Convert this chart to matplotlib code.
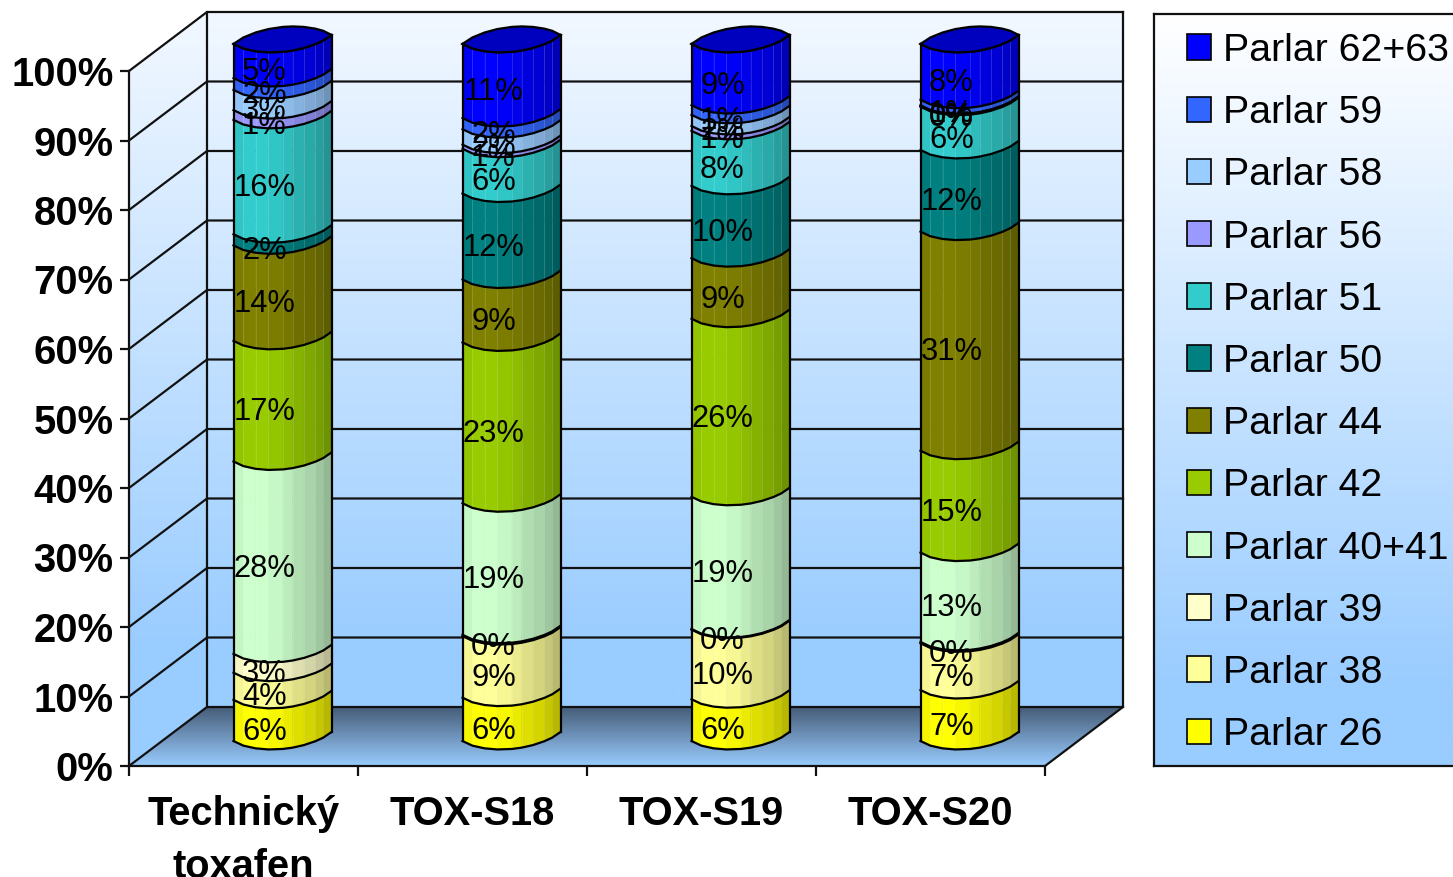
import numpy as np
import matplotlib
matplotlib.use('Agg')
import matplotlib.pyplot as plt
from matplotlib.collections import PolyCollection, LineCollection
from matplotlib.colors import LinearSegmentedColormap, to_rgb
from matplotlib.patches import Patch, Polygon

plt.rcParams['font.family'] = ['Liberation Sans', 'DejaVu Sans']

categories = ['Technický\ntoxafen', 'TOX-S18', 'TOX-S19', 'TOX-S20']
series_names = ['Parlar 26', 'Parlar 38', 'Parlar 39', 'Parlar 40+41', 'Parlar 42', 'Parlar 44',
                'Parlar 50', 'Parlar 51', 'Parlar 56', 'Parlar 58', 'Parlar 59', 'Parlar 62+63']
series_colors = ['#FFFF00', '#FFFF99', '#FFFFCC', '#CCFFCC', '#99CC00', '#808000',
                 '#008080', '#33CCCC', '#9999FF', '#99CCFF', '#3366FF', '#0000FF']

# shares, the printed labels are these rounded
technicky = [5.9, 3.9, 2.7, 27.6, 17.3, 13.7, 1.6, 16.4, 1.4, 2.9, 1.7, 4.9]
tox_s18 = [6.2, 8.8, 0.2, 18.8, 23.0, 9.0, 12.3, 6.4, 0.6, 2.2, 1.6, 10.6]
tox_s19 = [6.0, 10.0, 0.1, 19.0, 25.6, 8.7, 10.4, 7.9, 0.7, 1.6, 1.4, 8.8]
tox_s20 = [7.3, 6.7, 0.2, 12.8, 14.6, 31.4, 11.7, 6.2, 0.1, 0.1, 0.8, 8.0]
columns = [technicky, tox_s18, tox_s19, tox_s20]

W, H = 1453, 877
LEFT, RIGHT, TOP, BOTTOM = 129, 1045, 71, 766
PX_X = (RIGHT - LEFT) / 4.0
PX_Y = (BOTTOM - TOP) / 100.0
DX = 78 / PX_X
DY = 59 / PX_Y

fig = plt.figure(figsize=(W / 100, H / 100), dpi=100, facecolor='white')
ax = fig.add_axes([LEFT / W, 1 - BOTTOM / H, (RIGHT - LEFT) / W, (BOTTOM - TOP) / H])
ax.set_facecolor('none')

wall_cmap = LinearSegmentedColormap.from_list('wall', ['#F2F8FF', '#99CCFF'])
floor_cmap = LinearSegmentedColormap.from_list('floor', ['#465C78', '#99CCFF'])


def gradient(cmap, extent, corners, stop=1.0):
    ramp = np.clip(np.linspace(0, 1, 256) / stop, 0, 1).reshape(-1, 1)
    im = ax.imshow(ramp, cmap=cmap, vmin=0, vmax=1, extent=extent, origin='upper',
                   aspect='auto', zorder=0)
    im.set_clip_box(fig.bbox)
    im.set_clip_path(Polygon(corners, transform=ax.transData))


# walls and floor
gradient(wall_cmap, (DX, 4 + DX, 0, 100 + DY), [(DX, DY), (4 + DX, DY), (4 + DX, 100 + DY), (DX, 100 + DY)], 0.85)
gradient(wall_cmap, (0, DX, 0, 100 + DY), [(0, 0), (DX, DY), (DX, 100 + DY), (0, 100)], 0.85)
gradient(floor_cmap, (0, 4 + DX, 0, DY), [(0, 0), (4, 0), (4 + DX, DY), (DX, DY)])

line_style = dict(color='#111111', lw=1.6, clip_on=False, zorder=1, solid_capstyle='projecting')
for v in range(10, 101, 10):
    ax.plot([0, DX, 4 + DX], [v, v + DY, v + DY], **line_style)
ax.plot([DX, DX, 4 + DX, 4 + DX], [100 + DY, DY, DY, 100 + DY], **line_style)
ax.plot([0, DX], [0, DY], **line_style)
ax.plot([4, 4 + DX], [0, DY], **line_style)

# polygon cylinder, positions across the width from -1 to 1
facet_x = np.array([-1, -0.8, -0.55, -0.29, 0.01, 0.21, 0.44, 0.67, 0.83, 1.0])
facet_shade = [0.96, 1.0, 1.0, 0.97, 0.92, 0.87, 0.83, 0.78, 0.72]
RADIUS_X = 49 / PX_X
RADIUS_Y = 12.5 / PX_Y
SKEW = 4.5 / PX_Y
BAR_TOP = 100.3
bulge = (1 - facet_x ** 2) ** 0.8
outline = dict(color='black', lw=1.6, clip_on=False, zorder=4, solid_joinstyle='round')

for i, col in enumerate(columns):
    vals = np.array(col, dtype=float)
    tops = np.cumsum(vals) / vals.sum() * BAR_TOP
    bottoms = tops - vals / vals.sum() * BAR_TOP
    cx = i + 0.5 + DX / 2
    xs = cx + facet_x * RADIUS_X
    front = DY / 2 + SKEW * facet_x - RADIUS_Y * bulge
    back = DY / 2 + SKEW * facet_x + RADIUS_Y * bulge

    for b, t, c in zip(bottoms, tops, series_colors):
        rgb = np.array(to_rgb(c))
        quads, shades, lines = [], [], []
        for k in range(len(facet_shade)):
            quads.append([(xs[k], b + front[k]), (xs[k + 1], b + front[k + 1]),
                          (xs[k + 1], t + front[k + 1]), (xs[k], t + front[k])])
            shades.append(tuple(rgb * facet_shade[k]))
            if k > 0:
                lines.append([(xs[k], b + front[k]), (xs[k], t + front[k])])
        ax.add_collection(PolyCollection(quads, facecolors=shades, edgecolors=shades, linewidths=0.4,
                                         clip_on=False, zorder=3))
        ax.add_collection(LineCollection(lines, colors=[(1, 1, 1, 0.14)], linewidths=0.7,
                                         clip_on=False, zorder=3))
        ax.plot(xs, t + front, **outline)

    top_rgb = np.array(to_rgb(series_colors[-1])) * 0.75
    ax.add_patch(Polygon(np.column_stack([np.r_[xs, xs[::-1]], np.r_[BAR_TOP + front, BAR_TOP + back[::-1]]]),
                         closed=True, fc=top_rgb, ec='black', lw=1.6, clip_on=False, zorder=4))
    ax.plot(xs, front, **outline)
    ax.plot([xs[0], xs[0]], [front[0], BAR_TOP + front[0]], **outline)
    ax.plot([xs[-1], xs[-1]], [front[-1], BAR_TOP + front[-1]], **outline)

    for v, b, t in zip(vals, bottoms, tops):
        ax.annotate('%.0f%%' % v, (cx, (b + t) / 2 + DY / 2), xytext=(-13, -11.3), textcoords='offset points',
                    ha='center', va='center', fontsize=22.2, color='black', zorder=6, annotation_clip=False)

ax.set_xlim(0, 4)
ax.set_ylim(0, 100)
for side in ['top', 'right']:
    ax.spines[side].set_visible(False)
for side in ['left', 'bottom']:
    ax.spines[side].set_linewidth(1.6)
    ax.spines[side].set_color('#111111')
    ax.spines[side].set_zorder(2)

ax.set_yticks(range(0, 101, 10))
ax.set_yticklabels(['%d%%' % v for v in range(0, 101, 10)], fontsize=28.8, fontweight='bold')
ax.set_xticks(range(5))
ax.set_xticklabels([])
ax.set_xticks(np.arange(4) + 0.5, labels=categories, minor=True, fontsize=28.7, fontweight='bold',
              linespacing=1.5)
ax.tick_params(axis='y', length=6.5, width=1.6, pad=4.6, color='#111111')
ax.tick_params(axis='x', which='major', length=7.5, width=1.6, color='#111111')
ax.tick_params(axis='x', which='minor', length=0, pad=21)

# legend box with its own gradient
box_left, box_top = 1154, 14
lax = fig.add_axes([box_left / W, 1 - BOTTOM / H, (W + 20 - box_left) / W, (BOTTOM - box_top) / H])
ramp = np.clip(np.linspace(0, 1, 256) / 0.9, 0, 1).reshape(-1, 1)
lax.imshow(ramp, cmap=LinearSegmentedColormap.from_list('box', ['#FFFFFF', '#99CCFF']), aspect='auto', vmin=0, vmax=1)
lax.set_xticks([])
lax.set_yticks([])
for s in lax.spines.values():
    s.set_linewidth(1.6)
    s.set_color('#111111')

handles = [Patch(facecolor=c, edgecolor='black', linewidth=1.2, label=n)
           for c, n in zip(series_colors[::-1], series_names[::-1])]
fig.legend(handles=handles, loc='upper left', bbox_to_anchor=(1179 / W, 1 - 25 / H), frameon=False,
           fontsize=28.3, handlelength=0.62, handleheight=0.62, handletextpad=0.3, labelspacing=0.667,
           borderpad=0.2, borderaxespad=0)

fig.savefig('out.png', dpi=100)
